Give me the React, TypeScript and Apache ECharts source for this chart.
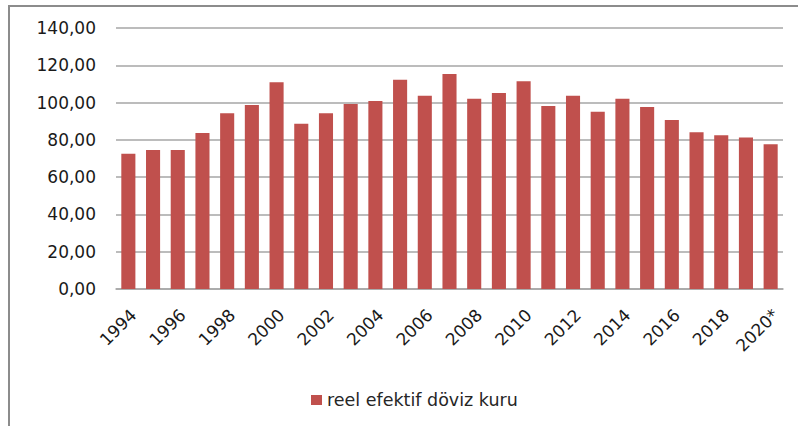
import React, { useEffect, useRef } from "react";
import * as echarts from "echarts";

const years = [
  "1994", "1995", "1996", "1997", "1998", "1999", "2000", "2001", "2002",
  "2003", "2004", "2005", "2006", "2007", "2008", "2009", "2010", "2011",
  "2012", "2013", "2014", "2015", "2016", "2017", "2018", "2019", "2020*",
];
const reelEfektif = [
  72.6, 74.6, 74.6, 83.7, 94.3, 98.7, 110.9, 88.7, 94.3, 99.2, 100.9, 112.3,
  103.7, 115.3, 102.1, 105.2, 111.4, 98.2, 103.7, 95.1, 102.1, 97.6, 90.7,
  84.1, 82.5, 81.2, 77.6,
];
const seriesName = "reel efektif döviz kuru";

export default function App() {
  const ref = useRef<HTMLDivElement>(null);
  useEffect(() => {
    if (!ref.current) return;
    const chart = echarts.init(ref.current, undefined, { renderer: "svg" });
    const font = "'DejaVu Sans', Verdana, sans-serif";
    chart.setOption({
      animation: false,
      backgroundColor: "#ffffff",
      textStyle: { fontFamily: font },
      graphic: [
        {
          type: "rect",
          shape: { x: 9, y: 6, width: 820, height: 440 },
          style: { fill: "none", stroke: "#8c8c8c", lineWidth: 2 },
          silent: true,
        },
      ],
      grid: { left: 116, right: 15, top: 28, bottom: 137, containLabel: false },
      legend: {
        data: [seriesName],
        top: 386,
        left: 306,
        itemWidth: 11,
        itemHeight: 10,
        icon: "rect",
        itemGap: 6,
        textStyle: { fontSize: 17.5, color: "#262626", fontFamily: font },
      },
      xAxis: {
        type: "category",
        data: years,
        axisLine: { show: true, lineStyle: { color: "#a6a6a6", width: 1.5 } },
        axisTick: { show: false },
        axisLabel: {
          interval: 1,
          rotate: 45,
          margin: 28,
          padding: [0, -7, 0, 0],
          fontSize: 17,
          color: "#1a1a1a",
          fontFamily: font,
        },
      },
      yAxis: {
        type: "value",
        min: 0,
        max: 140,
        interval: 20,
        axisLine: { show: false },
        axisTick: { show: false },
        splitLine: { lineStyle: { color: "#a6a6a6", width: 1.5 } },
        axisLabel: {
          margin: 20,
          fontSize: 17,
          color: "#1a1a1a",
          fontFamily: font,
          formatter: (v: number) => v.toFixed(2).replace(".", ","),
        },
      },
      series: [
        {
          name: seriesName,
          type: "bar",
          data: reelEfektif,
          barCategoryGap: "43%",
          itemStyle: { color: "#c0504d" },
        },
      ],
    });
    return () => chart.dispose();
  }, []);
  return (
    <div
      ref={ref}
      style={{ position: "fixed", left: 0, top: 0, width: 798, height: 426 }}
    />
  );
}
